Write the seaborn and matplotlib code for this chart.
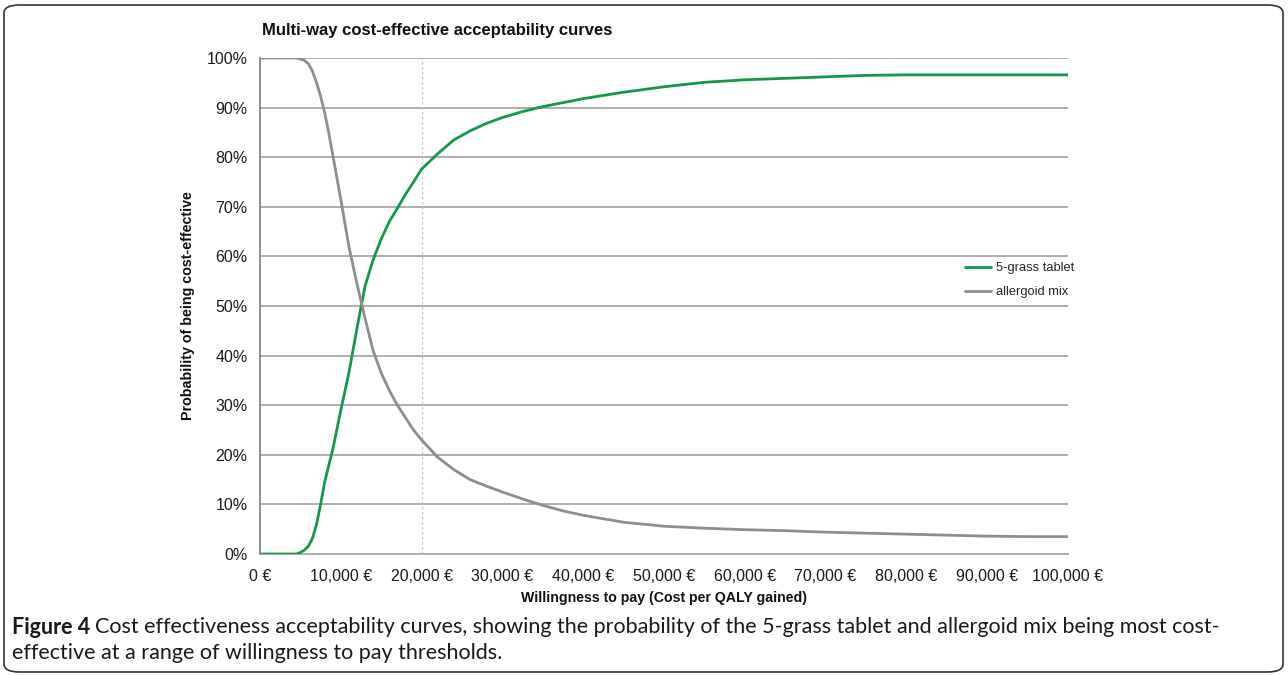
import matplotlib
matplotlib.use("Agg")
import matplotlib.pyplot as plt
import seaborn as sns
import pandas as pd
from matplotlib.patches import FancyBboxPatch
from matplotlib.ticker import FuncFormatter

# ---- data ----
wtp = [0, 2000, 4000, 4500, 5000, 5500, 6000, 6500, 7000, 7500, 8000, 8500, 9000,
       9500, 10000, 11000, 12000, 13000, 14000, 15000, 16000, 17000, 18000, 19000,
       20000, 22000, 24000, 26000, 28000, 30000, 32500, 35000, 37500, 40000,
       45000, 50000, 55000, 60000, 65000, 70000, 75000, 80000, 85000, 90000,
       95000, 100000]
grass_tablet = [0, 0, 0, 0, 0.3, 0.8, 1.6, 3.2, 6, 10, 14.5, 17.8, 21,
                25, 29, 36.5, 45.5, 54, 59.3, 63.5, 67, 69.7, 72.5, 75,
                77.6, 80.7, 83.5, 85.3, 86.8, 88.0, 89.2, 90.2, 91.0, 91.8,
                93.1, 94.2, 95.1, 95.6, 95.9, 96.2, 96.5, 96.6, 96.6, 96.6,
                96.6, 96.6]
allergoid_mix = [100, 100, 100, 100, 99.8, 99.5, 98.8, 97.3, 95, 92.3, 89, 85, 80.5,
                 76, 71.5, 62, 54.5, 47.5, 41, 36.5, 33, 30, 27.5, 25,
                 23, 19.5, 17, 15, 13.7, 12.5, 11.1, 9.8, 8.7, 7.8,
                 6.4, 5.6, 5.2, 4.9, 4.7, 4.4, 4.2, 4.0, 3.8, 3.6,
                 3.5, 3.5]
series_names = ["5-grass tablet", "allergoid mix"]
x_ticks = list(range(0, 100001, 10000))
y_ticks = list(range(0, 101, 10))

df = pd.concat([
    pd.DataFrame({"wtp": wtp, "prob": grass_tablet, "series": series_names[0]}),
    pd.DataFrame({"wtp": wtp, "prob": allergoid_mix, "series": series_names[1]}),
])

sns.set_style("white")
plt.rcParams["font.family"] = ["Liberation Sans", "DejaVu Sans"]

fig = plt.figure(figsize=(12.88, 6.75), dpi=100)
ax = fig.add_axes([260 / 1288, 1 - 554 / 675, 808 / 1288, 496 / 675])

GREEN = "#14994a"
GRAY = "#8e8e8e"
GRID = "#a8a8a8"

for yv in y_ticks[1:]:
    ax.axhline(yv, color=GRID, lw=1.3, zorder=1)
ax.axvline(20000, color="#c8c8c8", lw=0.9, ls=(0, (2, 2)), zorder=1)

sns.lineplot(data=df, x="wtp", y="prob", hue="series", palette=[GREEN, GRAY],
             lw=2.0, ax=ax, zorder=3)

ax.set_xlim(0, 100000)
ax.set_ylim(0, 100)
ax.set_xticks(x_ticks)
ax.set_yticks(y_ticks)
ax.xaxis.set_major_formatter(FuncFormatter(lambda v, p: f"{int(v):,} €"))
ax.yaxis.set_major_formatter(FuncFormatter(lambda v, p: f"{int(v)}%"))
ax.tick_params(axis="both", which="major", direction="out", length=5, width=1.2,
               color=GRID, labelsize=11.5, labelcolor="#1a1a1a", pad=6)
ax.tick_params(axis="y", length=6, pad=3)

for s in ["top", "right"]:
    ax.spines[s].set_visible(False)
ax.spines["left"].set_color("#7a7a7a")
ax.spines["left"].set_linewidth(1.2)
ax.spines["bottom"].set_color(GRID)
ax.spines["bottom"].set_linewidth(1.3)

ax.set_xlabel("Willingness to pay (Cost per QALY gained)", fontsize=10.2,
              fontweight="bold", labelpad=5, color="#111111")
ax.set_ylabel("Probability of being cost-effective", fontsize=10.3,
              fontweight="bold", labelpad=8, color="#111111")

fig.text(262 / 1288, 1 - 30 / 675, "Multi-way cost-effective acceptability curves",
         fontsize=12, fontweight="bold", ha="left", va="center", color="#111111")

leg = ax.legend(loc="center left", bbox_to_anchor=(0.858, 0.552), frameon=False,
                fontsize=9.3, handlelength=2.0, handletextpad=0.4, labelspacing=0.9)
for h in leg.get_lines():
    h.set_linewidth(2.0)

# caption
cap_font = ["Lato", "DejaVu Sans"]
cap_size = 15.5
y1 = 1 - 627 / 675
t1 = fig.text(12 / 1288, y1, "Figure 4", fontsize=cap_size, fontweight="bold",
              family=cap_font, ha="left", va="center", color="#1a1a1a")
fig.canvas.draw()
bb = t1.get_window_extent()
fig.text(bb.x1 / 1288 + 5 / 1288, y1,
         "Cost effectiveness acceptability curves, showing the probability of the 5-grass tablet and allergoid mix being most cost-",
         fontsize=cap_size, family=cap_font, ha="left", va="center", color="#1a1a1a")
fig.text(12 / 1288, 1 - 653 / 675,
         "effective at a range of willingness to pay thresholds.",
         fontsize=cap_size, family=cap_font, ha="left", va="center", color="#1a1a1a")

# rounded border
border = FancyBboxPatch((4 / 1288, 3 / 675), 1279 / 1288, 667 / 675,
                        boxstyle="round,pad=0,rounding_size=0.012",
                        transform=fig.transFigure, fill=False,
                        edgecolor="#333333", lw=1.2)
fig.patches.append(border)

fig.savefig("out.png", dpi=100)
